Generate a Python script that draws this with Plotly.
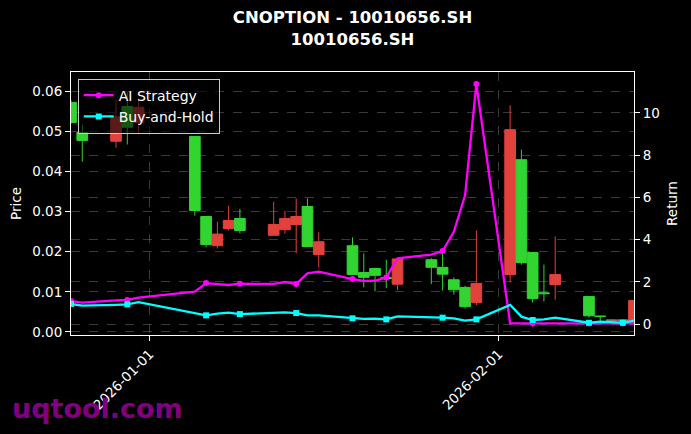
import plotly.graph_objects as go

dates = ["2025-12-25", "2025-12-26", "2025-12-29", "2025-12-30", "2025-12-31",
         "2026-01-05", "2026-01-06", "2026-01-07", "2026-01-08", "2026-01-09",
         "2026-01-12", "2026-01-13", "2026-01-14", "2026-01-15", "2026-01-16",
         "2026-01-19", "2026-01-20", "2026-01-21", "2026-01-22", "2026-01-23",
         "2026-01-26", "2026-01-27", "2026-01-28", "2026-01-29", "2026-01-30",
         "2026-02-02", "2026-02-03", "2026-02-04", "2026-02-05", "2026-02-06",
         "2026-02-09", "2026-02-10", "2026-02-11", "2026-02-12", "2026-02-13"]

open_p = [0.0523, 0.0478, 0.0537, 0.0511, 0.0561,
          0.0303, 0.0218, 0.0244, 0.0278, 0.0253,
          0.0268, 0.0283, 0.0288, 0.0213, 0.0225,
          0.0143, 0.0136, 0.0141, 0.0133, 0.0182,
          0.0161, 0.0144, 0.0105, 0.0063, 0.0121,
          0.0505, 0.0173, 0.0083, 0.0095, 0.0143,
          0.0040, 0.0038, 0.0029, 0.0029, 0.0078]
high_p = [0.0578, 0.0518, 0.0580, 0.0598, 0.0585,
          0.0488, 0.0290, 0.0275, 0.0315, 0.0307,
          0.0325, 0.0302, 0.0333, 0.0333, 0.0249,
          0.0236, 0.0196, 0.0160, 0.0180, 0.0183,
          0.0184, 0.0196, 0.0136, 0.0115, 0.0253,
          0.0566, 0.0455, 0.0198, 0.0168, 0.0238,
          0.0088, 0.0039, 0.0031, 0.0031, 0.0078]
low_p = [0.0520, 0.0425, 0.0460, 0.0468, 0.0494,
         0.0290, 0.0211, 0.0208, 0.0253, 0.0246,
         0.0241, 0.0245, 0.0196, 0.0213, 0.0161,
         0.0143, 0.0111, 0.0101, 0.0109, 0.0104,
         0.0119, 0.0103, 0.0093, 0.0058, 0.0067,
         0.0123, 0.0168, 0.0073, 0.0076, 0.0080,
         0.0035, 0.0027, 0.0027, 0.0027, 0.0021]
close_p = [0.0573, 0.0498, 0.0476, 0.0563, 0.0522,
           0.0488, 0.0288, 0.0215, 0.0258, 0.0283,
           0.0241, 0.0255, 0.0268, 0.0313, 0.0193,
           0.0215, 0.0148, 0.0158, 0.0135, 0.0119,
           0.0180, 0.0161, 0.0130, 0.0111, 0.0073,
           0.0143, 0.0430, 0.0198, 0.0097, 0.0118,
           0.0088, 0.0039, 0.0029, 0.0029, 0.0021]

ai_return = [1.09, 1.01, 1.12, 1.14, 1.25,
             1.53, 1.94, 1.88, 1.85, 1.91,
             1.90, 1.99, 1.90, 2.40, 2.48,
             2.13, 2.04, 2.05, 2.21, 3.11,
             3.29, 3.46, 4.37, 6.11, 11.37,
             0.03, 0.03, 0.03, 0.03, 0.03,
             0.03, 0.03, 0.03, 0.03, 0.03]
bh_return = [0.95, 0.87, 0.91, 0.93, 1.04,
             0.53, 0.41, 0.49, 0.54, 0.47,
             0.54, 0.55, 0.52, 0.41, 0.41,
             0.27, 0.24, 0.25, 0.22, 0.36,
             0.33, 0.30, 0.27, 0.16, 0.22,
             0.91, 0.35, 0.19, 0.22, 0.30,
             0.06, 0.11, 0.09, 0.06, 0.16]

x_ticks = ["2026-01-01", "2026-02-01"]
price_ticks = [0.00, 0.01, 0.02, 0.03, 0.04, 0.05, 0.06]
return_ticks = [0, 2, 4, 6, 8, 10]

GREEN = "rgb(50,212,50)"
RED = "rgb(226,66,60)"
GRAY = "rgb(130,130,130)"
GRID = "rgba(128,128,128,0.45)"

flat = [i for i in range(len(dates)) if open_p[i] == close_p[i]]
main = [i for i in range(len(dates)) if i not in flat]

def pick(arr, idx):
    return [arr[i] for i in idx]

fig = go.Figure()
fig.add_trace(go.Candlestick(
    x=pick(dates, main), open=pick(open_p, main), high=pick(high_p, main),
    low=pick(low_p, main), close=pick(close_p, main),
    increasing=dict(line=dict(color=GREEN, width=1), fillcolor=GREEN),
    decreasing=dict(line=dict(color=RED, width=1), fillcolor=RED),
    showlegend=False, hoverinfo="skip", yaxis="y"))
fig.add_trace(go.Candlestick(
    x=pick(dates, flat), open=pick(open_p, flat), high=pick(high_p, flat),
    low=pick(low_p, flat), close=pick(close_p, flat),
    increasing=dict(line=dict(color=GRAY, width=1), fillcolor=GRAY),
    decreasing=dict(line=dict(color=GRAY, width=1), fillcolor=GRAY),
    showlegend=False, hoverinfo="skip", yaxis="y"))

marked = list(range(0, len(dates), 3))
fig.add_trace(go.Scatter(
    x=dates, y=ai_return, name="AI Strategy", mode="lines+markers",
    line=dict(color="#ff00ff", width=2.3),
    marker=dict(symbol="circle", size=6, color="#ff00ff"),
    selectedpoints=marked, selected=dict(marker=dict(opacity=1)),
    unselected=dict(marker=dict(opacity=0)), yaxis="y2"))
fig.add_trace(go.Scatter(
    x=dates, y=bh_return, name="Buy-and-Hold", mode="lines+markers",
    line=dict(color="#00ffff", width=2.3),
    marker=dict(symbol="square", size=6, color="#00ffff"),
    selectedpoints=marked, selected=dict(marker=dict(opacity=1)),
    unselected=dict(marker=dict(opacity=0)), yaxis="y2"))

axis_common = dict(showline=True, linecolor="white", linewidth=1,
                   ticks="outside", ticklen=5, tickcolor="white", tickwidth=1,
                   showgrid=True, gridcolor=GRID, griddash="dash", gridwidth=0.8,
                   zeroline=False, tickfont=dict(size=13.5, color="white"))

fig.update_layout(
    width=691, height=434,
    paper_bgcolor="black", plot_bgcolor="black",
    font=dict(family="DejaVu Sans", color="white"),
    margin=dict(l=71, r=57, t=72, b=99, pad=0, autoexpand=False),
    title=dict(text="<b>CNOPTION - 10010656.SH<br>10010656.SH</b>",
               x=0.5, xref="paper", xanchor="center",
               y=0.946, yref="container", yanchor="top",
               font=dict(size=16.5, color="white")),
    boxgap=0.025, boxgroupgap=0.025,
    xaxis=dict(type="date", range=[dates[0], dates[-1]], tickvals=x_ticks,
               ticktext=x_ticks, tickangle=-45, mirror=True,
               rangeslider=dict(visible=False), **axis_common),
    yaxis=dict(range=[-0.0008, 0.0649], tickvals=price_ticks, tickformat=".2f",
               title=dict(text="Price", standoff=7,
                          font=dict(size=13.5, color="white")),
               **axis_common),
    yaxis2=dict(range=[-0.52, 11.94], tickvals=return_ticks, overlaying="y",
                side="right",
                title=dict(text="Return", standoff=8,
                           font=dict(size=13.5, color="white")),
                **axis_common),
    legend=dict(x=0.012, y=0.975, xanchor="left", yanchor="top",
                bgcolor="rgba(0,0,0,0.6)", bordercolor="#cccccc", borderwidth=1,
                font=dict(size=14, color="white")),
    annotations=[dict(text="<b>uqtool.com</b>", xref="paper", yref="paper",
                      x=-0.108, y=-0.278, xanchor="left", yanchor="middle",
                      showarrow=False, font=dict(size=27, color="#800080"))],
)

fig.write_html("out.html", config={"displayModeBar": False},
               post_script="document.body.style.margin='0px';document.body.style.overflow='hidden';")
